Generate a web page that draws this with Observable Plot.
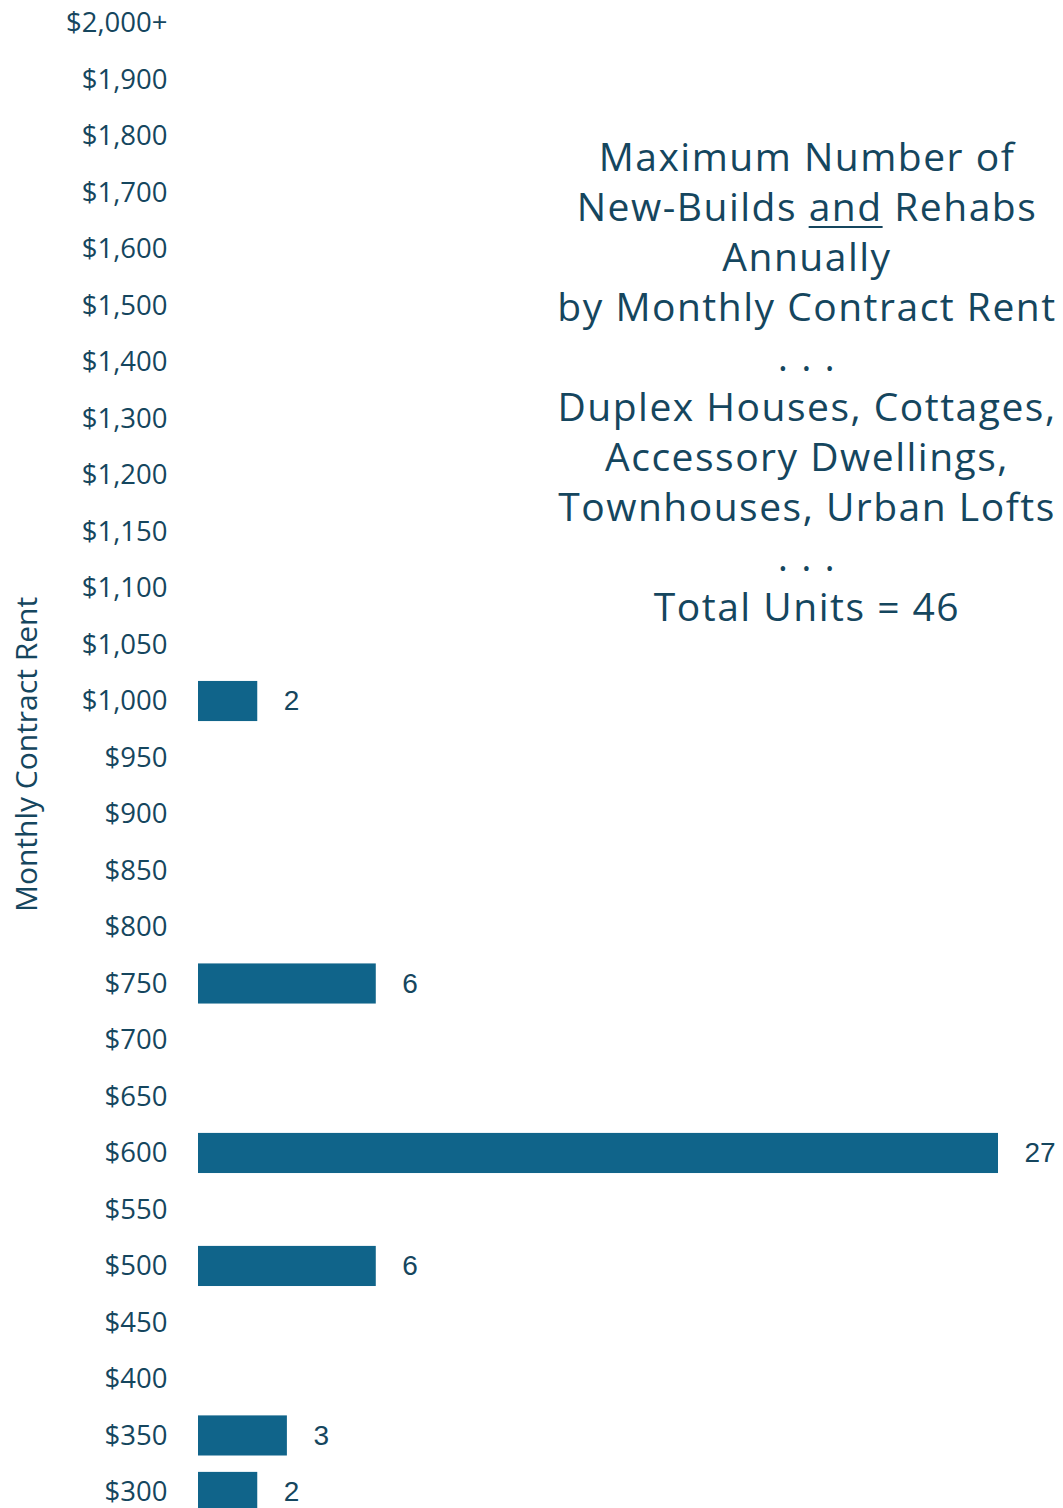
<!DOCTYPE html>
<html><head><meta charset="utf-8">
<script src="https://cdn.jsdelivr.net/npm/d3@7"></script>
<script src="https://cdn.jsdelivr.net/npm/@observablehq/plot@0.6"></script>
<style>
body{margin:0;background:#fff;}
#wrap{position:relative;width:1063px;height:1508px;overflow:hidden;}
#title{position:absolute;left:551px;width:512px;top:131px;text-align:center;font-family:"Open Sans",sans-serif;font-size:39px;line-height:50px;color:#15465e;letter-spacing:1.5px;white-space:nowrap;}
#title u{text-decoration-thickness:2px;text-underline-offset:5px;}
</style></head>
<body><div id="wrap"><div id="chart"></div>
<div id="title">Maximum Number of<br>New-Builds <u>and</u> Rehabs<br>Annually<br>by Monthly Contract Rent<br>. . .<br>Duplex Houses, Cottages,<br>Accessory Dwellings,<br>Townhouses, Urban Lofts<br>. . .<br>Total Units = 46</div></div>
<script>
const rents = ["$300","$350","$400","$450","$500","$550","$600","$650","$700","$750","$800","$850","$900","$950","$1,000","$1,050","$1,100","$1,150","$1,200","$1,300","$1,400","$1,500","$1,600","$1,700","$1,800","$1,900","$2,000+"];
const units = [2,3,0,0,6,0,27,0,0,6,0,0,0,0,2,0,0,0,0,0,0,0,0,0,0,0,0];
const axisLabel = "Monthly Contract Rent";

const data = rents.map((r,i)=>({rent:r, units:units[i]}));
const shown = data.filter(d=>d.units>0);
const ink = "#15465e";

const chart = Plot.plot({
  width:1063, height:1508,
  marginLeft:198, marginRight:65, marginTop:0, marginBottom:0,
  style:{fontFamily:"'Open Sans', sans-serif", fontSize:"27px", color:ink, background:"transparent"},
  x:{domain:[0,27], axis:null},
  y:{domain:rents.slice().reverse(), range:[3,1512], paddingInner:0.29, paddingOuter:0, round:false},
  marks:[
    Plot.barX(shown,{x:"units", y:"rent", fill:"#10648a"}),
    Plot.text(shown,{x:"units", y:"rent", text:d=>String(d.units), textAnchor:"start", dx:26, fontSize:28, fontFamily:"Liberation Sans, Arial, sans-serif", fill:ink}),
    Plot.axisY({tickSize:0, tickPadding:31, fontSize:27.5, label:null, style:{letterSpacing:"0.2px"}}),
    Plot.axisY({tickSize:0, ticks:[], fontSize:30, label:axisLabel, labelAnchor:"center", labelOffset:183, labelArrow:"none", style:{letterSpacing:"1.2px"}})
  ]
});
document.getElementById("chart").appendChild(chart);
</script>
</body></html>
